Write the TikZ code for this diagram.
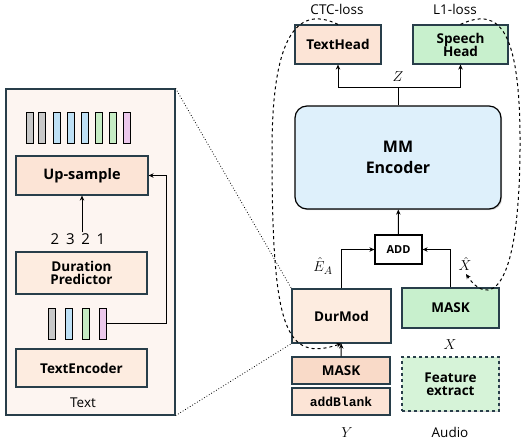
\documentclass[tikz,border=0pt]{standalone}
\usepackage{fontspec}
\setmainfont{Open Sans}
\setmonofont{Liberation Mono}
\usetikzlibrary{arrows.meta, positioning, shadows}
\definecolor{frame}{RGB}{40, 62, 74}
\definecolor{panelbg}{RGB}{253, 245, 241}
\definecolor{peach}{RGB}{252, 228, 214}
\definecolor{peachlt}{RGB}{253, 236, 224}
\definecolor{peachdk}{RGB}{249, 218, 200}
\definecolor{mint}{RGB}{200, 240, 205}
\definecolor{mintlt}{RGB}{214, 243, 216}
\definecolor{sky}{RGB}{222, 240, 251}
\definecolor{tokgray}{RGB}{200, 200, 200}
\definecolor{tokblue}{RGB}{190, 224, 245}
\definecolor{tokgreen}{RGB}{198, 236, 196}
\definecolor{tokpink}{RGB}{236, 200, 235}

\begin{document}
\begin{tikzpicture}[x=1pt, y=-1pt,
    block/.style={rectangle, draw=frame, line width=1.2pt, align=center,
                  font=\bfseries\fontsize{13.5}{14}\selectfont,
                  drop shadow={opacity=0.35, shadow xshift=1.2pt, shadow yshift=-1.2pt}},
    token/.style={rectangle, draw=black, line width=1pt, minimum width=7pt,
                  inner sep=0pt},
    lbl/.style={font=\fontsize{13.5}{14}\selectfont, inner sep=1pt},
    mlbl/.style={font=\fontsize{15}{16}\selectfont, inner sep=0pt},
    arr/.style={-{Stealth[length=5pt, width=4.5pt]}, line width=1pt}]

    \useasboundingbox (0,0) rectangle (528,447);

    % Text side (zoomed panel)
    \node[rectangle, draw=frame, line width=1.2pt, fill=panelbg,
          minimum width=169pt, minimum height=326pt,
          drop shadow={opacity=0.3, shadow xshift=1.2pt, shadow yshift=-1.2pt}]
          (panel) at (90.5,252) {};

    % expanded tokens
    \foreach \x/\c [count=\i] in {29.5/tokgray, 42/tokgray, 56.5/tokblue, 71/tokblue,
                                  84.5/tokblue, 98.5/tokgreen, 112.5/tokgreen, 126.5/tokpink}
        \node[token, fill=\c, minimum height=31pt] (up\i) at (\x,127.5) {};

    \node[block, fill=peach, minimum width=132pt, minimum height=39pt,
          font=\bfseries\fontsize{14.5}{15}\selectfont] (upsample) at (82,175.5) {Up-sample};
    \node[lbl, font=\fontsize{15}{16}\selectfont] (durs) at (78,239)
        {2\hspace{0.45em}3\hspace{0.45em}2\hspace{0.45em}1};
    \node[block, fill=peachlt, minimum width=131pt, minimum height=42pt] (durpred) at (81.5,273)
        {Duration\\[-1pt]Predictor};

    % encoder outputs
    \foreach \x/\c [count=\i] in {51.5/tokgray, 68.5/tokblue, 85.5/tokgreen, 102.5/tokpink}
        \node[token, fill=\c, minimum height=31pt] (enc\i) at (\x,323.5) {};

    \node[block, fill=peachlt, minimum width=131pt, minimum height=38pt] (textenc) at (81.5,368) {TextEncoder};
    \node[lbl] (textlbl) at (83,403) {Text};

    \draw[arr] ([xshift=4pt]durs.north) -- ([xshift=4pt]durs.north |- upsample.south);
    \draw[arr] (enc4.east) -- (166,323.5) |- (upsample.east);

    % Heads
    \node[block, fill=peach, minimum width=86pt, minimum height=39pt] (texthead) at (338,44.5) {TextHead};
    \node[block, fill=mint, minimum width=95pt, minimum height=39pt] (speechhead) at (460.5,44.5)
        {Speech\\[-1pt]Head};
    \node[lbl] (ctc) at (337,9) {CTC-loss};
    \node[lbl] (l1) at (455,9) {L1-loss};

    % Encoder
    \node[block, draw=black, fill=sky, rounded corners=12pt, minimum width=206pt,
          minimum height=103pt, font=\bfseries\fontsize{16}{21}\selectfont] (mmenc) at (398,157.5)
        {MM\\Encoder};
    \node[block, draw=black, fill=white, minimum width=47pt, minimum height=29pt,
          font=\bfseries\fontsize{11}{12}\selectfont] (add) at (398.5,249.5) {ADD};

    % Inputs
    \node[block, fill=peachlt, minimum width=99pt, minimum height=54pt] (durmod) at (341.5,316) {DurMod};
    \node[block, fill=mint, minimum width=97pt, minimum height=40pt] (maskx) at (450.5,308) {MASK};
    \node[block, fill=peachdk, minimum width=98pt, minimum height=27pt] (masky) at (341,370.5) {MASK};
    \node[block, fill=peach, minimum width=98pt, minimum height=27pt,
          font=\ttfamily\bfseries\fontsize{13}{14}\selectfont] (addblank) at (341,401.5) {addBlank};
    \node[block, dashed, fill=mintlt, minimum width=97pt, minimum height=54pt] (feat) at (450.5,384)
        {Feature\\[-1pt]extract};

    % Math labels
    \node[mlbl] (zlbl) at (398,77) {$Z$};
    \node[mlbl] (ealbl) at (323,266) {$\hat{E}_A$};
    \node[mlbl] (xhat) at (465,264) {$\hat{X}$};
    \node[mlbl] (xlbl) at (450,345) {$X$};
    \node[mlbl] (ylbl) at (347,433) {$Y$};
    \node[lbl] (audio) at (450,432) {Audio};

    % Arrows
    \draw[line width=1pt] (mmenc.north) -- ++(0,-18) coordinate (zsplit);
    \draw[arr] (zsplit) -| (texthead.south);
    \draw[arr] (zsplit) -| (speechhead.south);
    \draw[arr] (add) -- (mmenc);
    \draw[arr] (durmod.north) |- (add.west);
    \draw[arr] (maskx.north) |- (add.east);
    \draw[arr] (masky) -- (durmod);

    % Loss loops
    \draw[arr, dashed] (texthead.north) .. controls (300,6) and (272,30) .. (272,150)
        .. controls (272,330) and (285,362) .. (durmod.south);
    \draw[arr, dashed] (speechhead.north) .. controls (500,6) and (521,30) .. (520,150)
        .. controls (519,300) and (487,305) .. ([xshift=1pt, yshift=-3pt]xhat.south);

    % Zoom lines
    \draw[dotted, line width=0.8pt] (panel.north east) -- (durmod.north west);
    \draw[dotted, line width=0.8pt] (panel.south east) -- (durmod.south west);
\end{tikzpicture}
\end{document}
